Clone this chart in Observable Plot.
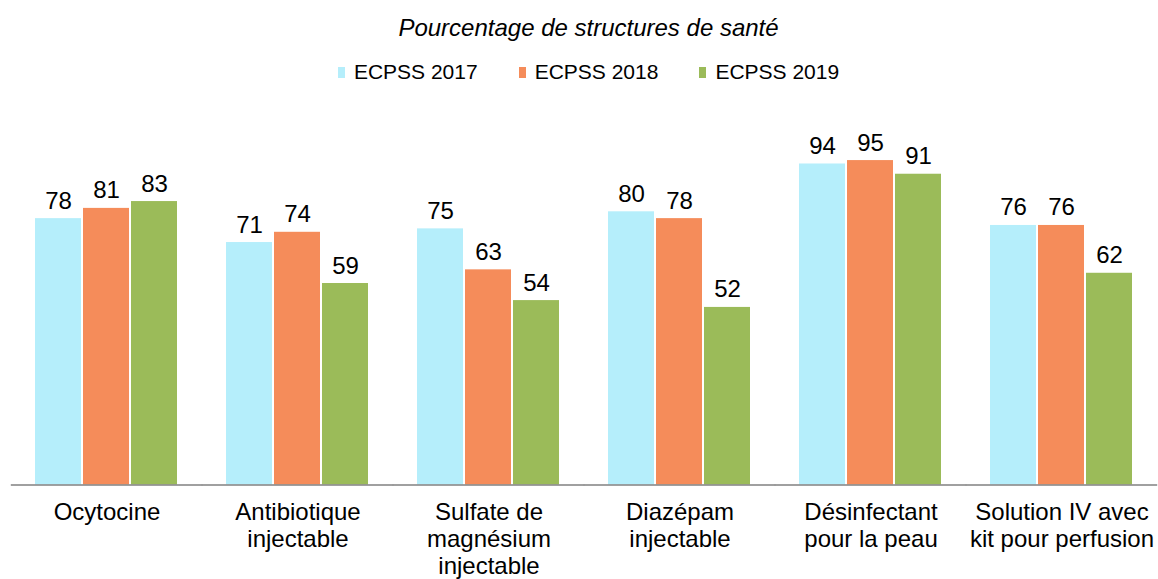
<!DOCTYPE html>
<html>
<head>
<meta charset="utf-8">
<script src="https://cdn.jsdelivr.net/npm/d3@7"></script>
<script src="https://cdn.jsdelivr.net/npm/@observablehq/plot@0.6"></script>
<style>
  html, body { margin: 0; padding: 0; background: #fff; overflow: hidden; }
  body { width: 1158px; height: 579px; font-family: "Liberation Sans", Arial, sans-serif; color: #000; }
  #title { height: 56px; display: flex; align-items: center; justify-content: center; font-style: italic; font-size: 24px; position: relative; left: 9.5px; }
  #legend { height: 32px; display: flex; align-items: center; justify-content: center; font-size: 21px; position: relative; left: 9.5px; }
  .item { display: flex; align-items: center; margin: 0 20.5px; }
  .sw { width: 7px; height: 11px; margin-right: 9px; }
  #chart svg { display: block; }
</style>
</head>
<body>
<div id="title">Pourcentage de structures de santé</div>
<div id="legend"></div>
<div id="chart"></div>
<script>
const categories = ["Ocytocine", "Antibiotique injectable", "Sulfate de magnésium injectable", "Diazépam injectable", "Désinfectant pour la peau", "Solution IV avec kit pour perfusion"];
const categoryLabels = ["Ocytocine", "Antibiotique\ninjectable", "Sulfate de\nmagnésium\ninjectable", "Diazépam\ninjectable", "Désinfectant\npour la peau", "Solution IV avec\nkit pour perfusion"];
const series = ["ECPSS 2017", "ECPSS 2018", "ECPSS 2019"];
const values2017 = [78, 71, 75, 80, 94, 76];
const values2018 = [81, 74, 63, 78, 95, 76];
const values2019 = [83, 59, 54, 52, 91, 62];
const colors = ["#b5eefb", "#f58c5a", "#9bbb59"];

const seriesValues = [values2017, values2018, values2019];
const data = [];
categories.forEach((c, i) => {
  series.forEach((s, j) => data.push({category: c, series: s, value: seriesValues[j][i]}));
});
const labelTable = categories.map((c, i) => ({category: c, label: categoryLabels[i]}));

// legend
const legend = document.getElementById("legend");
series.forEach((s, j) => {
  const item = document.createElement("div");
  item.className = "item";
  const sw = document.createElement("span");
  sw.className = "sw";
  sw.style.background = colors[j];
  const t = document.createElement("span");
  t.textContent = s;
  item.appendChild(sw);
  item.appendChild(t);
  legend.appendChild(item);
});

const chart = Plot.plot({
  width: 1158,
  height: 491,
  marginLeft: 10,
  marginRight: 0,
  marginTop: 55,
  marginBottom: 94.5,
  style: {fontFamily: "Liberation Sans, Arial, sans-serif", background: "#fff", color: "#000"},
  fx: {domain: categories, paddingInner: 0.2424, paddingOuter: 0.1212, axis: null, label: null},
  x: {domain: series, paddingInner: 0.04, paddingOuter: 0, axis: null, label: null},
  y: {domain: [0, 100], axis: null},
  color: {domain: series, range: colors},
  marks: [
    Plot.barY(data, {fx: "category", x: "series", y: "value", fill: "series"}),
    Plot.ruleY([0], {stroke: "#808080", strokeWidth: 1.5, insetLeft: -23.2, insetRight: -23.2}),
    Plot.text(data, {fx: "category", x: "series", y: "value", text: d => String(d.value), lineAnchor: "bottom", dy: -10, fontSize: 24, fill: "#000"}),
    Plot.text(labelTable, {fx: "category", text: "label", frameAnchor: "bottom", lineAnchor: "top", dy: 16.3, fontSize: 24, lineHeight: 1.125, fill: "#000"})
  ]
});
document.getElementById("chart").appendChild(chart);
</script>
</body>
</html>
